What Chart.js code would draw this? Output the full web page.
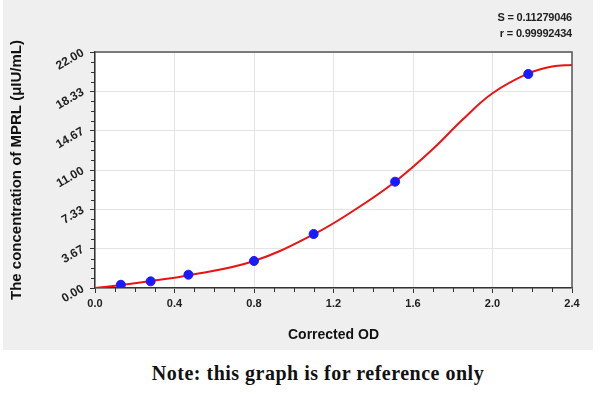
<!DOCTYPE html>
<html>
<head>
<meta charset="utf-8">
<script src="https://cdn.jsdelivr.net/npm/chart.js@4.4.1/dist/chart.umd.min.js"></script>
<style>
  body { margin: 0; background: #fff; width: 600px; height: 394px; overflow: hidden; position: relative; font-family: "Liberation Sans", Arial, sans-serif; }
  #panel { position: absolute; left: 3px; top: 0; width: 590px; height: 350px; background: #efefef; }
  #wrap { position: absolute; left: 0; top: 0; width: 600px; height: 350px; }
  #stats { position: absolute; right: 28px; top: 9px; text-align: right; font-weight: bold; font-size: 11px; line-height: 16px; color: #222; letter-spacing: -0.2px; }
  #note { position: absolute; left: 18px; width: 600px; top: 362px; text-align: center; font-family: "Liberation Serif", serif; font-weight: bold; font-size: 20px; letter-spacing: 0.5px; color: #111; }
</style>
</head>
<body>
<div id="panel"></div>
<div id="wrap"><canvas id="chart" width="600" height="350"></canvas></div>
<div id="stats">S = 0.11279046<br>r = 0.99992434</div>
<div id="note">Note: this graph is for reference only</div>
<script>
// standard points (corrected OD vs concentration)
let pointOD = [0.13, 0.28, 0.47, 0.80, 1.10, 1.51, 2.18];
let pointConc = [0.30, 0.62, 1.24, 2.52, 5.03, 9.91, 19.95];

// fitted curve
let curveOD = [0, 0.13, 0.28, 0.48, 0.80, 1.10, 1.30, 1.51, 1.70, 1.85, 2.00, 2.18, 2.30, 2.40];
let curveConc = [0, 0.28, 0.65, 1.21, 2.52, 5.00, 7.20, 9.91, 12.95, 15.70, 18.15, 20.00, 20.65, 20.80];

let xTicks = ["0.0", "0.4", "0.8", "1.2", "1.6", "2.0", "2.4"];
let yTicks = ["0.00", "3.67", "7.33", "11.00", "14.67", "18.33", "22.00"];

let xFont = { family: "Liberation Sans", size: 11, weight: "bold" };
let yFont = { family: "Liberation Sans", size: 12, weight: "bold" };
let titleFont = { family: "Liberation Sans", size: 14, weight: "bold" };

// white plot area, top/right frame and minor ticks
let framePlugin = {
    id: "frame",
    beforeDraw(chart) {
        let a = chart.chartArea;
        let ctx = chart.ctx;
        ctx.save();
        ctx.fillStyle = "#ffffff";
        ctx.fillRect(a.left, a.top, a.right - a.left, a.bottom - a.top);
        ctx.restore();
    },
    afterDraw(chart) {
        let a = chart.chartArea;
        let ctx = chart.ctx;
        let xs = chart.scales.x;
        let ys = chart.scales.y;
        ctx.save();
        ctx.strokeStyle = "#555";
        ctx.lineWidth = 1.5;
        ctx.beginPath();
        ctx.moveTo(a.left, a.top);
        ctx.lineTo(a.right, a.top);
        ctx.lineTo(a.right, a.bottom);
        ctx.stroke();

        ctx.strokeStyle = "#333";
        ctx.lineWidth = 1;
        ctx.beginPath();
        for (let i = 1; i < 24; i++) {
            if (i % 4 === 0) continue;
            let px = Math.round(xs.getPixelForValue(i * 0.1)) + 0.5;
            ctx.moveTo(px, a.bottom);
            ctx.lineTo(px, a.bottom + 4);
            let py = Math.round(ys.getPixelForValue(i * 22 / 24)) + 0.5;
            ctx.moveTo(a.left, py);
            ctx.lineTo(a.left - 4, py);
        }
        ctx.stroke();
        ctx.restore();
    }
};

new Chart(document.getElementById("chart"), {
    type: "scatter",
    data: {
        datasets: [
            {
                label: "Standards",
                data: pointOD.map((x, i) => ({ x: x, y: pointConc[i] })),
                backgroundColor: "#1a1aff",
                borderColor: "#1a1aff",
                pointRadius: 4.5,
                order: 0
            },
            {
                label: "Fit",
                data: curveOD.map((x, i) => ({ x: x, y: curveConc[i] })),
                showLine: true,
                borderColor: "#ee1111",
                borderWidth: 2,
                pointRadius: 0,
                tension: 0.4,
                order: 1
            }
        ]
    },
    options: {
        responsive: false,
        animation: false,
        layout: { padding: { left: 0, top: 52, right: 28, bottom: 0 } },
        plugins: {
            legend: { display: false },
            tooltip: { enabled: false }
        },
        scales: {
            x: {
                type: "linear",
                min: 0,
                max: 2.4,
                afterBuildTicks: scale => { scale.ticks = xTicks.map(t => ({ value: parseFloat(t) })); },
                afterFit: scale => { scale.height = 62; },
                ticks: {
                    font: xFont,
                    color: "#222",
                    padding: 4,
                    maxRotation: 0,
                    callback: v => v.toFixed(1)
                },
                grid: { color: "#e4e4e4", tickColor: "#333", tickLength: 5 },
                border: { color: "#333", width: 1.5 },
                title: { display: true, text: "Corrected OD", font: titleFont, color: "#111", padding: { top: 4, bottom: 6 } }
            },
            y: {
                type: "linear",
                min: 0,
                max: 22,
                afterBuildTicks: scale => { scale.ticks = yTicks.map(t => ({ value: parseFloat(t) })); },
                afterFit: scale => { scale.width = 95; },
                ticks: {
                    font: yFont,
                    color: "#222",
                    padding: 7,
                    minRotation: 30,
                    maxRotation: 30,
                    callback: v => v.toFixed(2)
                },
                grid: { color: "#e4e4e4", tickColor: "#333", tickLength: 5 },
                border: { color: "#333", width: 1.5 },
                title: { display: true, text: "The concentration of MPRL (μIU/mL)", font: { family: "Liberation Sans", size: 15, weight: "bold" }, color: "#111", padding: { top: 8, bottom: 4 } }
            }
        }
    },
    plugins: [framePlugin]
});
</script>
</body>
</html>
